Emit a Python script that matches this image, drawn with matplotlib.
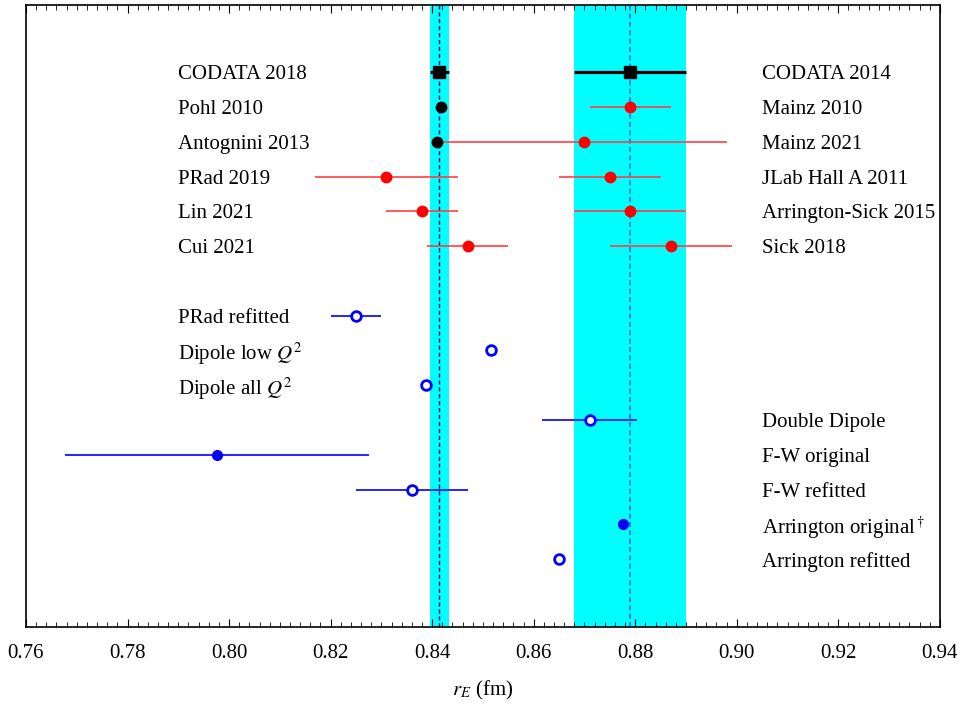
import matplotlib
matplotlib.use("Agg")
import matplotlib.pyplot as plt
from matplotlib.ticker import MultipleLocator

plt.rcParams["font.family"] = ["Liberation Serif", "DejaVu Serif"]
plt.rcParams["mathtext.fontset"] = "stix"

# bands (center, half width)
band_muonic = (0.8414, 0.0019)
band_ep = (0.879, 0.011)

# rows: label, side, value, error, style
codata_labels = ["CODATA 2018", "CODATA 2014"]
codata_rows = [0, 0]
codata_vals = [0.8414, 0.879]
codata_errs = [0.0019, 0.011]

black_labels = ["Pohl 2010", "Antognini 2013"]
black_rows = [1, 2]
black_vals = [0.8418, 0.8409]
black_errs = [0.0007, 0.0004]

red_left_labels = ["PRad 2019", "Lin 2021", "Cui 2021"]
red_left_rows = [3, 4, 5]
red_left_vals = [0.831, 0.838, 0.847]
red_left_errs = [0.014, 0.007, 0.008]

red_right_labels = ["Mainz 2010", "Mainz 2021", "JLab Hall A 2011",
                    "Arrington-Sick 2015", "Sick 2018"]
red_right_rows = [1, 2, 3, 4, 5]
red_right_vals = [0.879, 0.870, 0.875, 0.879, 0.887]
red_right_errs = [0.008, 0.028, 0.010, 0.011, 0.012]

open_left_labels = ["PRad refitted", "Dipole low $Q^2$", "Dipole all $Q^2$"]
open_left_rows = [7, 8, 9]
open_left_vals = [0.825, 0.8515, 0.8387]
open_left_errs = [0.005, 0.0, 0.0]

blue_right_labels = ["Double Dipole", "F-W original", "F-W refitted",
                     "Arrington original$^\\dagger$", "Arrington refitted"]
blue_right_rows = [10, 11, 12, 13, 14]
blue_right_vals = [0.871, 0.7976, 0.836, 0.8775, 0.865]
blue_right_errs = [0.0093, 0.030, 0.011, 0.0, 0.0]
blue_right_filled = [False, True, False, True, False]

fig = plt.figure(figsize=(9.62, 7.11), dpi=100)
ax = fig.add_axes([0.027, 0.118, 0.950, 0.875])

ax.axvspan(band_muonic[0] - band_muonic[1], band_muonic[0] + band_muonic[1],
           color="#00ffff", lw=0, zorder=0)
ax.axvspan(band_ep[0] - band_ep[1], band_ep[0] + band_ep[1],
           color="#00ffff", lw=0, zorder=0)
ax.axvline(band_muonic[0], color="#000066", ls=(0, (3, 2)), lw=1.0, zorder=1)
ax.axvline(band_ep[0], color="#2266ff", ls=(0, (3, 2)), lw=1.2, zorder=1)

ax.errorbar(codata_vals, codata_rows, xerr=codata_errs, fmt="s", color="black",
            ms=8, elinewidth=2.3, capsize=0, zorder=3)
ax.errorbar(black_vals, black_rows, xerr=black_errs, fmt="o", color="black",
            ms=7.5, elinewidth=1.2, capsize=0, zorder=3)
ax.errorbar(red_left_vals, red_left_rows, xerr=red_left_errs, fmt="o",
            color="#ff0000", ecolor="#ff4040", ms=7.5, elinewidth=1.2,
            capsize=0, zorder=2)
ax.errorbar(red_right_vals, red_right_rows, xerr=red_right_errs, fmt="o",
            color="#ff0000", ecolor="#ff4040", ms=7.5, elinewidth=1.2,
            capsize=0, zorder=2)
ax.errorbar(open_left_vals, open_left_rows, xerr=open_left_errs, fmt="o",
            color="#0000ff", mfc="white", mew=2, ms=7, elinewidth=1.2,
            capsize=0, zorder=3)
for v, r, e, filled in zip(blue_right_vals, blue_right_rows,
                           blue_right_errs, blue_right_filled):
    if filled:
        ax.errorbar(v, r, xerr=e, fmt="o", color="#0000ff", ms=7,
                    elinewidth=1.2, capsize=0, zorder=3)
    else:
        ax.errorbar(v, r, xerr=e, fmt="o", color="#0000ff", mfc="white",
                    mew=2, ms=7, elinewidth=1.2, capsize=0, zorder=3)

x_left = 0.7899
x_right = 0.9049
fs = 15
for lab, r in zip([codata_labels[0]] + black_labels + red_left_labels + open_left_labels,
                  [codata_rows[0]] + black_rows + red_left_rows + open_left_rows):
    ax.text(x_left, r, lab, ha="left", va="center_baseline", fontsize=fs)
for lab, r in zip([codata_labels[1]] + red_right_labels + blue_right_labels,
                  [codata_rows[1]] + red_right_rows + blue_right_rows):
    ax.text(x_right, r, lab, ha="left", va="center_baseline", fontsize=fs)

ax.set_xlim(0.76, 0.94)
ax.set_ylim(15.95, -1.93)
ax.set_yticks([])
ax.xaxis.set_major_locator(MultipleLocator(0.02))
ax.xaxis.set_minor_locator(MultipleLocator(0.002))
ax.xaxis.set_major_formatter(plt.FuncFormatter(lambda v, p: f"{v:.2f}"))
ax.tick_params(axis="x", which="both", direction="in", top=True, labelsize=fs, pad=12)
ax.tick_params(axis="x", which="major", length=6, width=0.8)
ax.tick_params(axis="x", which="minor", length=3.5, width=0.6)
for s in ax.spines.values():
    s.set_linewidth(1.2)
ax.set_xlabel("$r_E$ (fm)", fontsize=fs, labelpad=12)

fig.savefig("out.png", dpi=100)
